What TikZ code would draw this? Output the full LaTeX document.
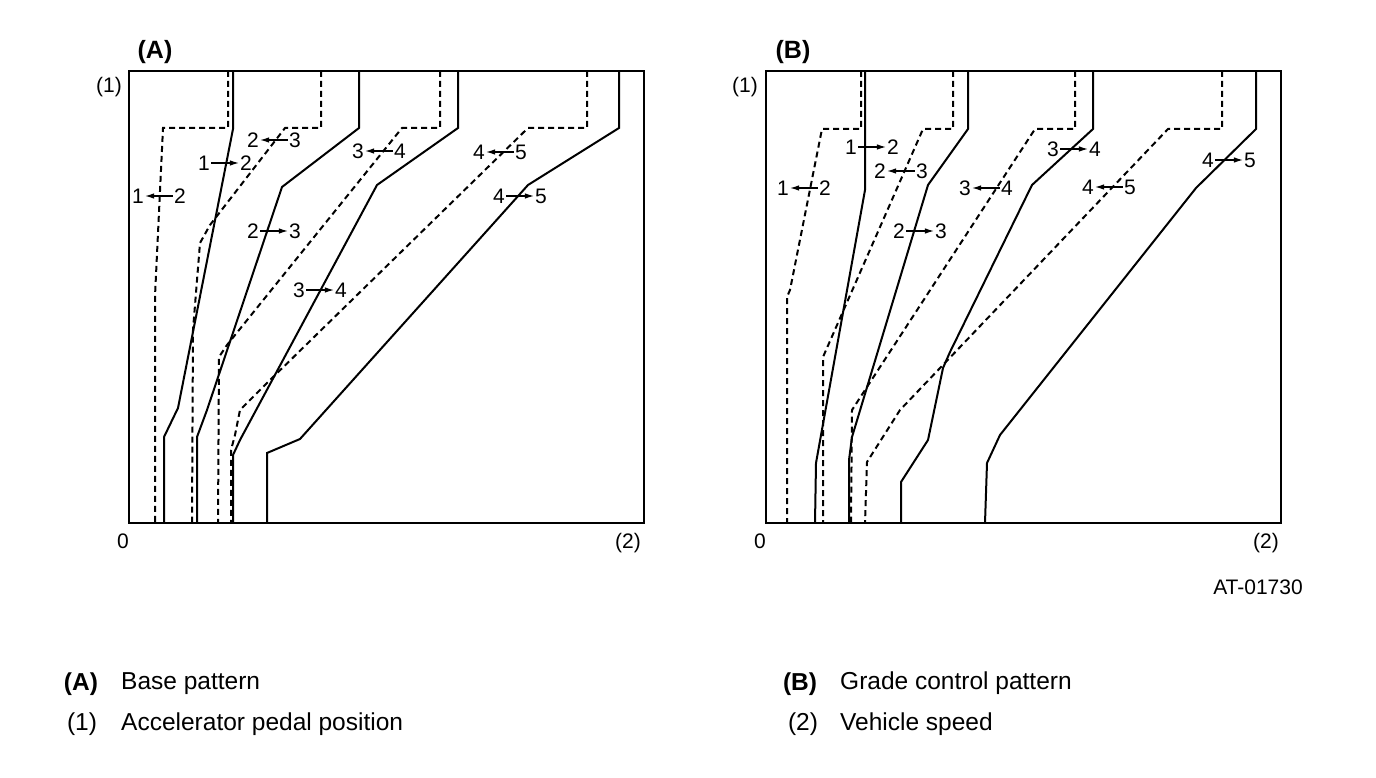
\documentclass[tikz,border=0pt]{standalone}
\usepackage{fontspec}
\setmainfont{Liberation Sans}
\usetikzlibrary{arrows.meta}
\def\shiftmark[#1](#2,#3)#4#5#6{\node[num] (#1l) at (#2-21,#3) {#4}; \node[num] (#1r) at (#2+21,#3) {#5}; \draw[#6, line width=1.2pt] (#1l) -- (#1r);}

\begin{document}
\begin{tikzpicture}[x=1pt, y=-1pt, >={Latex[length=9pt,width=5.5pt]},
	num/.style={font=\fontsize{21}{25}\selectfont, inner sep=1pt, text height=15pt, text depth=0pt},
	axis/.style={font=\fontsize{21}{25}\selectfont, inner sep=0pt, text height=15pt, text depth=0pt},
	title/.style={font=\bfseries\fontsize{25}{30}\selectfont, inner sep=0pt, text height=18pt, text depth=0pt},
	legend/.style={font=\fontsize{24.5}{29}\selectfont, inner sep=0pt, text height=17.5pt, text depth=0pt, anchor=west},
	upshift/.style={line width=2pt},
	downshift/.style={line width=2pt, dash pattern=on 6pt off 4pt}]
		%%%%% START %%%%%
		\useasboundingbox (0,0) rectangle (1376,778);
		
		%%%%% (A) base pattern
		\draw[line width=2.6pt] (129,71) rectangle (644,523);
		\node[title] (ta) at (155,50) {(A)};
		\node[axis] (ya) at (109,85) {(1)};
		\node[axis] (oa) at (123,541) {0};
		\node[axis] (xa) at (628,541) {(2)};
		
		\draw[downshift] (228,71) -- (228,128) -- (163,128) -- (155,296) -- (155,523);
		\draw[upshift] (233,71) -- (233,129) -- (178,408) -- (164,437) -- (164,523);
		\draw[downshift] (321,71) -- (321,128) -- (285,128) -- (210,225) -- (200,243) -- (193,330) -- (192,523);
		\draw[upshift] (359,71) -- (359,128) -- (282,187) -- (207,410) -- (197,437) -- (197,523);
		\draw[downshift] (440,71) -- (440,128) -- (402,128) -- (227,345) -- (219,357) -- (218,523);
		\draw[upshift] (458,71) -- (458,128) -- (377,185) -- (240,440) -- (233,455) -- (233,523);
		\draw[downshift] (587,71) -- (587,128) -- (528,128) -- (267,383) -- (240,410) -- (235,435) -- (231,450) -- (231,523);
		\draw[upshift] (619,71) -- (619,128) -- (528,185) -- (300,439) -- (267,453) -- (267,523);
		
		\shiftmark[a12d](159,196){1}{2}{<-}
		\shiftmark[a12u](225,163){1}{2}{->}
		\shiftmark[a23d](274,140){2}{3}{<-}
		\shiftmark[a23u](274,231){2}{3}{->}
		\shiftmark[a34d](379,151){3}{4}{<-}
		\shiftmark[a34u](320,290){3}{4}{->}
		\shiftmark[a45d](500,152){4}{5}{<-}
		\shiftmark[a45u](520,196){4}{5}{->}
		
		%%%%% (B) grade control pattern
		\draw[line width=2.6pt] (766,71) rectangle (1281,523);
		\node[title] (tb) at (793,50) {(B)};
		\node[axis] (yb) at (745,85) {(1)};
		\node[axis] (ob) at (760,541) {0};
		\node[axis] (xb) at (1266,541) {(2)};
		
		\draw[downshift] (861,71) -- (861,129) -- (822,129) -- (790,290) -- (787,297) -- (787,523);
		\draw[upshift] (865,71) -- (865,190) -- (816,463) -- (815,523);
		\draw[downshift] (953,71) -- (953,129) -- (923,129) -- (823,357) -- (823,523);
		\draw[upshift] (968,71) -- (968,129) -- (928,185) -- (852,437) -- (849,460) -- (849,523);
		\draw[downshift] (1075,71) -- (1075,129) -- (1035,129) -- (852,410) -- (851,523);
		\draw[upshift] (1093,71) -- (1093,129) -- (1032,185) -- (950,352) -- (943,368) -- (928,440) -- (901,482) -- (901,523);
		\draw[downshift] (1222,71) -- (1222,129) -- (1168,129) -- (900,410) -- (867,462) -- (865,523);
		\draw[upshift] (1256,71) -- (1256,129) -- (1196,188) -- (1000,435) -- (987,463) -- (985,523);
		
		\shiftmark[b12d](804,188){1}{2}{<-}
		\shiftmark[b12u](872,147){1}{2}{->}
		\shiftmark[b23d](901,171){2}{3}{<-}
		\shiftmark[b23u](920,231){2}{3}{->}
		\shiftmark[b34d](986,188){3}{4}{<-}
		\shiftmark[b34u](1074,149){3}{4}{->}
		\shiftmark[b45d](1109,187){4}{5}{<-}
		\shiftmark[b45u](1229,160){4}{5}{->}
		
		\node[axis] (code) at (1258,587) {AT-01730};
		
		%%%%% legend
		\node[title, font=\bfseries\fontsize{24.5}{29}\selectfont] (la) at (81,681) {(A)};
		\node[legend] (lat) at (121,681) {Base pattern};
		\node[legend, anchor=center] (l1) at (82,722) {(1)};
		\node[legend] (l1t) at (121,722) {Accelerator pedal position};
		\node[title, font=\bfseries\fontsize{24.5}{29}\selectfont] (lb) at (800,681) {(B)};
		\node[legend] (lbt) at (840,681) {Grade control pattern};
		\node[legend, anchor=center] (l2) at (803,722) {(2)};
		\node[legend] (l2t) at (840,722) {Vehicle speed};
		
		%%%%% END %%%%%
\end{tikzpicture}
\end{document}
